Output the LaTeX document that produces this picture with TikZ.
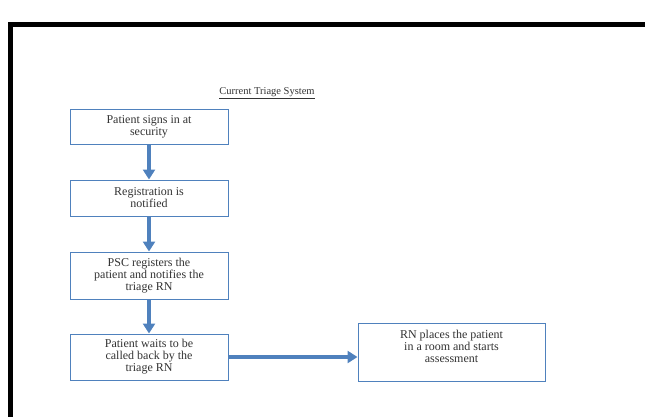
\documentclass[tikz,border=0pt]{standalone}
\usepackage{fontspec}
\setmainfont{Liberation Serif}
\usetikzlibrary{arrows.meta, shadows}
\definecolor{boxblue}{HTML}{4F81BD}
\definecolor{txtgray}{HTML}{333333}

\begin{document}
\begin{tikzpicture}[x=1pt, y=-1pt,
    stepbox/.style={draw=boxblue, line width=1pt, fill=white, align=center,
        text=txtgray, font=\fontsize{12}{12}\selectfont, inner sep=1pt,
        drop shadow={shadow xshift=1.2pt, shadow yshift=-1.2pt, opacity=0.25}},
    flow/.style={draw=boxblue, line width=4pt,
        -{Triangle[width=12pt, length=10pt]}}
    ]
        \useasboundingbox (0,0) rectangle (645,416);
        % frame
        \fill[black] (8,22) rectangle (650,27);
        \fill[black] (8,22) rectangle (13,420);
        \node[text=txtgray, font=\fontsize{10.5}{12}\selectfont] (Title) at (267,93) {
            \underline{Current Triage System}
        };
        \node[stepbox, minimum width=158pt, minimum height=35pt] (SignIn) at (149,126.5) {
            Patient signs in at\\ security
        };
        \node[stepbox, minimum width=158pt, minimum height=36pt] (Registration) at (149,198) {
            Registration is\\ notified
        };
        \node[stepbox, minimum width=158pt, minimum height=47pt] (PSC) at (149,275.5) {
            PSC registers the\\ patient and notifies the\\ triage RN
        };
        \node[stepbox, minimum width=158pt, minimum height=46pt] (Waits) at (149,357) {
            Patient waits to be\\ called back by the\\ triage RN
        };
        \node[stepbox, minimum width=187pt, minimum height=58pt] (Room) at (451.5,352) {
            RN places the patient\\ in a room and starts\\ assessment\\ \mbox{}
        };
        \draw[flow] (SignIn) to (Registration);
        \draw[flow] (Registration) to (PSC);
        \draw[flow] (PSC) to (Waits);
        \draw[flow] (Waits.east) to (Room.west |- Waits.east);
    \end{tikzpicture}
\end{document}
